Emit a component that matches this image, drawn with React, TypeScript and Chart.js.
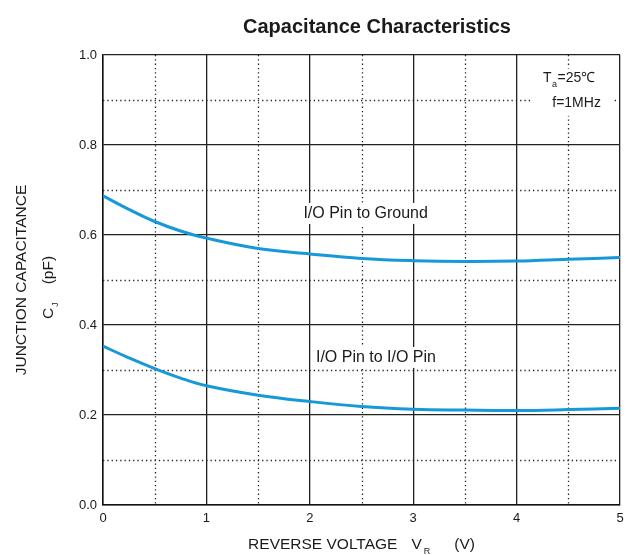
import React, { useEffect, useRef } from "react";
import { Chart, registerables } from "chart.js";

Chart.register(...registerables);

// ---- data ----
const VOLTAGES = [0, 0.25, 0.5, 0.75, 1, 1.5, 2, 2.5, 3, 3.5, 4, 4.5, 5];
const PIN_TO_GROUND = [0.687, 0.657, 0.630, 0.609, 0.593, 0.570, 0.558, 0.548, 0.543, 0.541, 0.542, 0.546, 0.550];
const PIN_TO_PIN = [0.353, 0.327, 0.303, 0.282, 0.265, 0.244, 0.230, 0.219, 0.213, 0.211, 0.210, 0.212, 0.215];
const SERIES_NAMES = ["I/O Pin to Ground", "I/O Pin to I/O Pin"];
const X_MINOR = [0.5, 1.5, 2.5, 3.5, 4.5];
const Y_MINOR = [0.1, 0.3, 0.5, 0.7, 0.9];
const TITLE = "Capacitance Characteristics";
const X_TITLE = ["REVERSE VOLTAGE", "V", "R", "(V)"];
const Y_TITLE_1 = "JUNCTION CAPACITANCE";
const Y_TITLE_2 = ["C", "J", "(pF)"];
const COND = ["T", "a", "=25\u2103", "f=1MHz"];

const FONT = '"Liberation Sans", Arial, Helvetica, sans-serif';
const BLUE = "#1798d8";
const INK = "#1a1a1a";

const decorPlugin = {
  id: "decor",
  beforeDatasetsDraw(chart: any) {
    const { ctx, chartArea, scales } = chart;
    const x = scales.x;
    const y = scales.y;
    ctx.save();
    // minor dotted grid
    ctx.strokeStyle = "#222";
    ctx.lineWidth = 1.3;
    ctx.setLineDash([1.3, 3]);
    X_MINOR.forEach((v) => {
      const px = Math.round(x.getPixelForValue(v)) + 0.5;
      ctx.beginPath();
      ctx.moveTo(px, chartArea.top);
      ctx.lineTo(px, chartArea.bottom);
      ctx.stroke();
    });
    Y_MINOR.forEach((v) => {
      const py = Math.round(y.getPixelForValue(v)) + 0.5;
      ctx.beginPath();
      ctx.moveTo(chartArea.left, py);
      ctx.lineTo(chartArea.right, py);
      ctx.stroke();
    });
    ctx.setLineDash([]);

    // series labels with white backgrounds
    ctx.font = `16px ${FONT}`;
    ctx.textAlign = "center";
    ctx.textBaseline = "middle";
    const labels = [
      { t: SERIES_NAMES[0], vx: 2.54, vy: 0.649 },
      { t: SERIES_NAMES[1], vx: 2.64, vy: 0.329 },
    ];
    labels.forEach((l) => {
      const cx = x.getPixelForValue(l.vx);
      const cy = y.getPixelForValue(l.vy);
      const w = ctx.measureText(l.t).width;
      ctx.fillStyle = "#fff";
      ctx.fillRect(cx - w / 2 - 5, cy - 10, w + 10, 21);
      ctx.fillStyle = INK;
      ctx.fillText(l.t, cx, cy + 1);
    });

    // conditions box
    const bx0 = x.getPixelForValue(4.13);
    const bx1 = x.getPixelForValue(4.93);
    const by0 = y.getPixelForValue(0.97);
    const by1 = y.getPixelForValue(0.865);
    ctx.fillStyle = "#fff";
    ctx.fillRect(bx0, by0, bx1 - bx0, by1 - by0);
    ctx.fillStyle = INK;
    ctx.textAlign = "left";
    ctx.font = `14px ${FONT}`;
    let tx = x.getPixelForValue(4.255);
    const ty = y.getPixelForValue(0.948);
    ctx.fillText(COND[0], tx, ty);
    tx += ctx.measureText(COND[0]).width;
    ctx.font = `9px ${FONT}`;
    ctx.fillText(COND[1], tx + 0.5, ty + 6);
    tx += ctx.measureText(COND[1]).width + 1;
    ctx.font = `14px ${FONT}`;
    ctx.fillText(COND[2], tx, ty);
    ctx.textAlign = "center";
    ctx.fillText(COND[3], x.getPixelForValue(4.58), y.getPixelForValue(0.892));
    ctx.restore();
  },
  afterDraw(chart: any) {
    const { ctx, chartArea } = chart;
    ctx.save();
    ctx.fillStyle = INK;
    ctx.textBaseline = "middle";
    // chart title
    ctx.font = `bold 20px ${FONT}`;
    ctx.textAlign = "center";
    ctx.fillText(TITLE, (chartArea.left + chartArea.right) / 2 + 15.5, chartArea.top - 28);

    // x axis title with subscript
    const big = `15.5px ${FONT}`;
    const small = `9px ${FONT}`;
    ctx.textAlign = "left";
    ctx.font = big;
    const w1 = ctx.measureText(X_TITLE[0]).width;
    const wV = ctx.measureText(X_TITLE[1]).width;
    const wP = ctx.measureText(X_TITLE[3]).width;
    ctx.font = small;
    const wR = ctx.measureText(X_TITLE[2]).width;
    const g1 = 14;
    const g2 = 24;
    const total = w1 + g1 + wV + 2 + wR + g2 + wP;
    let sx = (chartArea.left + chartArea.right) / 2 - total / 2;
    const sy = chartArea.bottom + 40;
    ctx.font = big;
    ctx.fillText(X_TITLE[0], sx, sy);
    sx += w1 + g1;
    ctx.fillText(X_TITLE[1], sx, sy);
    sx += wV + 2;
    ctx.font = small;
    ctx.fillText(X_TITLE[2], sx, sy + 7);
    sx += wR + g2;
    ctx.font = big;
    ctx.fillText(X_TITLE[3], sx, sy);

    // y axis title (rotated, two lines)
    const cy = (chartArea.top + chartArea.bottom) / 2;
    ctx.save();
    ctx.translate(22, cy);
    ctx.rotate(-Math.PI / 2);
    ctx.textAlign = "center";
    ctx.font = big;
    ctx.fillText(Y_TITLE_1, 0, 0);
    ctx.restore();

    ctx.save();
    ctx.translate(49, cy + 39);
    ctx.rotate(-Math.PI / 2);
    ctx.textAlign = "left";
    ctx.font = big;
    let lx = 0;
    ctx.fillText(Y_TITLE_2[0], lx, 0);
    lx += ctx.measureText(Y_TITLE_2[0]).width + 1;
    ctx.font = small;
    ctx.fillText(Y_TITLE_2[1], lx, 7);
    lx += ctx.measureText(Y_TITLE_2[1]).width + 18;
    ctx.font = big;
    ctx.fillText(Y_TITLE_2[2], lx, 0);
    ctx.restore();

    ctx.restore();
  },
};

export default function App() {
  const ref = useRef<HTMLCanvasElement | null>(null);

  useEffect(() => {
    document.body.style.margin = "0";
    const canvas = ref.current;
    if (!canvas) return;
    const chart = new Chart(canvas, {
      type: "line",
      data: {
        labels: VOLTAGES,
        datasets: [
          {
            label: SERIES_NAMES[0],
            data: VOLTAGES.map((v, i) => ({ x: v, y: PIN_TO_GROUND[i] })),
            borderColor: BLUE,
            borderWidth: 3,
            pointRadius: 0,
            tension: 0.4,
            fill: false,
          },
          {
            label: SERIES_NAMES[1],
            data: VOLTAGES.map((v, i) => ({ x: v, y: PIN_TO_PIN[i] })),
            borderColor: BLUE,
            borderWidth: 3,
            pointRadius: 0,
            tension: 0.4,
            fill: false,
          },
        ],
      },
      options: {
        animation: false,
        responsive: false,
        events: [],
        layout: { padding: { top: 55, right: 6, left: 0, bottom: 0 } },
        plugins: {
          legend: { display: false },
          title: { display: false },
          tooltip: { enabled: false },
        },
        scales: {
          x: {
            type: "linear",
            min: 0,
            max: 5,
            afterFit: (s: any) => {
              s.height = 50;
              s.paddingLeft = 0;
              s.paddingRight = 0;
            },
            ticks: {
              stepSize: 1,
              padding: 6,
              color: INK,
              font: { family: FONT, size: 13 },
            },
            grid: { color: "#222", lineWidth: 1.3, drawTicks: false },
            border: { color: "#111", width: 1.5 },
          },
          y: {
            type: "linear",
            min: 0,
            max: 1,
            afterFit: (s: any) => {
              s.width = 103;
              s.paddingTop = 0;
              s.paddingBottom = 0;
            },
            ticks: {
              stepSize: 0.2,
              padding: 6,
              color: INK,
              font: { family: FONT, size: 13 },
              callback: (v: any) => Number(v).toFixed(1),
            },
            grid: { color: "#222", lineWidth: 1.3, drawTicks: false },
            border: { color: "#111", width: 1.5 },
          },
        },
      },
      plugins: [decorPlugin],
    });
    return () => chart.destroy();
  }, []);

  return (
    <div style={{ width: 626, height: 555, background: "#fff" }}>
      <canvas ref={ref} width={626} height={555} style={{ display: "block" }} />
    </div>
  );
}
